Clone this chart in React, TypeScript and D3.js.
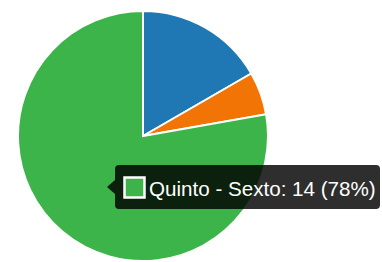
import React from 'react';
import * as d3 from 'd3';

const labels = ['Primero - Segundo', 'Tercero - Cuarto', 'Quinto - Sexto'];
const values = [3, 1, 14];
const colors = ['#1f77b4', '#f27405', '#3cb44a'];

const W = 382;
const H = 262;

function App() {
  const cx = 143;
  const cy = 136;
  const radius = 125;

  const pie = d3.pie<number>().sort(null).value(d => d);
  const arcs = pie(values);
  const arc = d3.arc<d3.PieArcDatum<number>>().innerRadius(0).outerRadius(radius);

  const total = d3.sum(values);
  const hovered = 2;
  const pct = d3.format('.0%')(values[hovered] / total);
  const tipText = `${labels[hovered]}: ${values[hovered]} (${pct})`;

  // tooltip box
  const tx = 115, ty = 165, tw = 265, th = 44;

  return (
    <svg
      width={W}
      height={H}
      style={{ position: 'fixed', left: 0, top: 0, background: '#fff' }}
      fontFamily="Arial, 'Liberation Sans', sans-serif"
    >
      <g transform={`translate(${cx},${cy})`}>
        {arcs.map((a, i) => (
          <path
            key={labels[i]}
            d={arc(a) || ''}
            fill={colors[i]}
            stroke="#fff"
            strokeWidth={2}
          />
        ))}
      </g>
      <g>
        <rect x={tx} y={ty} width={tw} height={th} rx={4} fill="rgba(0,0,0,0.82)" />
        <path
          d={`M${tx},${ty + th / 2 - 7} L${tx - 8},${ty + th / 2} L${tx},${ty + th / 2 + 7} Z`}
          fill="rgba(0,0,0,0.82)"
        />
        <rect x={124.5} y={177.5} width={20} height={20} fill={colors[hovered]} stroke="#fff" strokeWidth={2.5} />
        <text x={149} y={196} fill="#fff" fontSize={20.6}>
          {tipText}
        </text>
      </g>
    </svg>
  );
}

export default App;
